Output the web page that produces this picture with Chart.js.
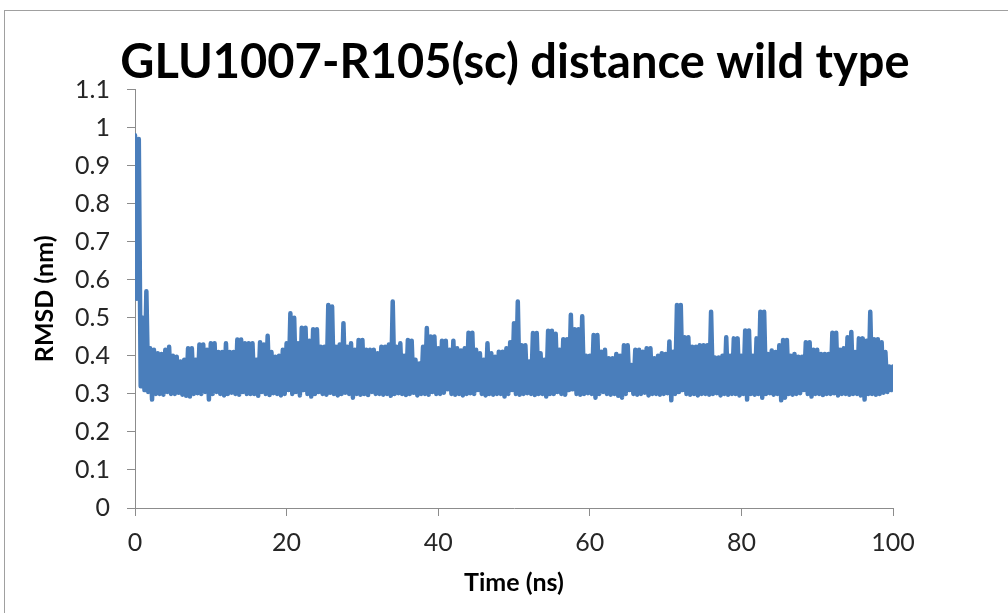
<!DOCTYPE html>
<html>
<head>
<meta charset="utf-8">
<script src="https://cdn.jsdelivr.net/npm/chart.js@4.4.1/dist/chart.umd.min.js"></script>
<style>
  html, body { margin: 0; padding: 0; background: #ffffff; overflow: hidden; }
  #wrap { position: relative; width: 1008px; height: 613px; }
  #frame { position: absolute; left: 4px; top: 10px; width: 1100px; height: 700px;
           border-left: 1px solid #a0a0a0; border-top: 1px solid #a0a0a0; box-sizing: border-box; }
  canvas { position: absolute; left: 0; top: 0; }
</style>
</head>
<body>
<div id="wrap">
  <div id="frame"></div>
  <canvas id="c" width="1008" height="613"></canvas>
</div>
<script>
// Chart texts
const chartTitle = 'GLU1007-R105(sc) distance wild type';
const xTitle = 'Time (ns)';
const yTitle = 'RMSD (nm)';

// Sampling of the trace (ns)
const sampleStep = 0.5;   // spacing of the upper-envelope samples
const lowOffset = 0.25;   // low samples sit between upper samples

// Upper-envelope samples, t = 0, 0.5, 1, ... 100 ns
const highValues = [
  0.98,0.97,0.50,0.57,0.42,0.416,0.407,0.405,0.416,0.424,
  0.40,0.398,0.385,0.39,0.42,0.42,0.39,0.43,0.43,0.416,
  0.433,0.433,0.41,0.41,0.433,0.41,0.41,0.443,0.443,0.433,
  0.433,0.433,0.39,0.436,0.43,0.453,0.41,0.398,0.40,0.416,
  0.433,0.512,0.50,0.433,0.474,0.474,0.44,0.47,0.47,0.424,
  0.424,0.534,0.53,0.424,0.43,0.486,0.424,0.433,0.416,0.442,
  0.442,0.416,0.416,0.416,0.407,0.424,0.424,0.43,0.543,0.424,
  0.433,0.40,0.442,0.44,0.39,0.38,0.424,0.473,0.451,0.451,
  0.42,0.44,0.44,0.416,0.44,0.42,0.414,0.42,0.461,0.461,
  0.416,0.407,0.39,0.433,0.407,0.398,0.411,0.411,0.42,0.436,
  0.486,0.543,0.428,0.428,0.385,0.46,0.46,0.407,0.39,0.466,
  0.466,0.458,0.416,0.444,0.444,0.508,0.47,0.47,0.504,0.40,
  0.40,0.455,0.455,0.411,0.416,0.394,0.394,0.405,0.40,0.428,
  0.428,0.376,0.416,0.416,0.411,0.42,0.42,0.394,0.40,0.407,
  0.405,0.438,0.411,0.534,0.534,0.449,0.449,0.424,0.424,0.428,
  0.428,0.428,0.516,0.396,0.396,0.40,0.449,0.40,0.446,0.446,
  0.40,0.467,0.467,0.40,0.446,0.516,0.516,0.405,0.414,0.41,
  0.428,0.442,0.442,0.40,0.405,0.398,0.398,0.436,0.436,0.416,
  0.416,0.405,0.405,0.405,0.461,0.461,0.416,0.42,0.449,0.463,
  0.41,0.446,0.446,0.44,0.516,0.444,0.444,0.436,0.41,0.372,
  0.372
];

// Lower-envelope samples, t = 0.25, 0.75, ... 99.75 ns
const lowValues = [
  0.55,0.32,0.31,0.305,0.285,0.30,0.30,0.298,0.305,0.30,
  0.30,0.303,0.298,0.295,0.293,0.30,0.302,0.30,0.305,0.285,
  0.30,0.305,0.30,0.296,0.30,0.303,0.30,0.298,0.305,0.30,
  0.30,0.30,0.295,0.305,0.30,0.297,0.302,0.30,0.296,0.30,
  0.31,0.30,0.305,0.296,0.31,0.30,0.293,0.30,0.305,0.30,
  0.298,0.303,0.30,0.296,0.30,0.303,0.30,0.29,0.30,0.298,
  0.30,0.297,0.305,0.30,0.30,0.298,0.30,0.295,0.30,0.302,
  0.30,0.297,0.30,0.303,0.296,0.30,0.30,0.298,0.305,0.30,
  0.30,0.303,0.312,0.30,0.298,0.30,0.296,0.30,0.302,0.30,
  0.31,0.30,0.296,0.30,0.298,0.30,0.30,0.293,0.30,0.31,
  0.30,0.298,0.30,0.302,0.30,0.297,0.30,0.30,0.293,0.30,
  0.30,0.305,0.30,0.298,0.31,0.312,0.30,0.298,0.30,0.302,
  0.30,0.29,0.30,0.305,0.30,0.298,0.30,0.295,0.29,0.30,
  0.31,0.30,0.298,0.30,0.303,0.296,0.30,0.30,0.298,0.30,
  0.302,0.283,0.30,0.305,0.31,0.30,0.298,0.30,0.296,0.30,
  0.30,0.298,0.30,0.302,0.296,0.30,0.298,0.30,0.30,0.296,
  0.30,0.285,0.30,0.298,0.30,0.29,0.30,0.302,0.298,0.30,
  0.283,0.29,0.30,0.298,0.30,0.302,0.31,0.30,0.293,0.30,
  0.30,0.297,0.30,0.30,0.302,0.296,0.30,0.30,0.298,0.30,
  0.30,0.296,0.285,0.30,0.30,0.298,0.30,0.303,0.305,0.31
];

// Axis tick settings
const xTicks = [0, 20, 40, 60, 80, 100];
const yTicks = [0, 0.1, 0.2, 0.3, 0.4, 0.5, 0.6, 0.7, 0.8, 0.9, 1, 1.1];

// Interleave the two envelopes into one trace
const trace = [];
for (let i = 0; i < highValues.length; i++) {
  trace.push({ x: i * sampleStep, y: highValues[i] });
  if (i < lowValues.length) trace.push({ x: i * sampleStep + lowOffset, y: lowValues[i] });
}

Chart.defaults.font.family = 'Lato, "Open Sans", sans-serif';
Chart.defaults.color = '#262626';

const axisGray = '#8c8c8c';

new Chart(document.getElementById('c'), {
  type: 'line',
  data: {
    datasets: [{
      data: trace,
      borderColor: '#4a7ebb',
      borderWidth: 4.5,
      borderJoinStyle: 'round',
      borderCapStyle: 'round',
      pointRadius: 0,
      tension: 0,
      fill: false
    }]
  },
  options: {
    responsive: false,
    animation: false,
    layout: { padding: { left: 22, right: 0, top: 0, bottom: 0 } },
    plugins: {
      legend: { display: false },
      tooltip: { enabled: false },
      title: {
        display: true,
        text: chartTitle,
        color: '#000000',
        font: { size: 47, weight: 'bold', lineHeight: 1.12 },
        padding: { top: 37, bottom: 0 }
      }
    },
    scales: {
      x: {
        type: 'linear',
        min: xTicks[0],
        max: xTicks[xTicks.length - 1],
        afterBuildTicks: s => { s.ticks = xTicks.map(v => ({ value: v })); },
        afterFit: s => { s.height = 105; },
        grid: { display: true, drawOnChartArea: false, drawTicks: true, tickLength: 8, color: axisGray, lineWidth: 1 },
        border: { display: true, color: axisGray, width: 1 },
        ticks: { font: { size: 25 }, padding: 12, maxRotation: 0, color: '#262626' },
        title: { display: true, text: xTitle, color: '#000000', font: { size: 25, weight: 'bold', lineHeight: 1.2 }, padding: { top: 4, bottom: 15 } }
      },
      y: {
        type: 'linear',
        min: yTicks[0],
        max: yTicks[yTicks.length - 1],
        afterBuildTicks: s => { s.ticks = yTicks.map(v => ({ value: v })); },
        afterFit: s => { s.width = 113; },
        grid: { display: true, drawOnChartArea: false, drawTicks: true, tickLength: 8, color: axisGray, lineWidth: 1 },
        border: { display: true, color: axisGray, width: 1 },
        ticks: { font: { size: 25 }, padding: 17, color: '#262626',
                 callback: v => String(Math.round(v * 10) / 10) },
        title: { display: true, text: yTitle, color: '#000000', font: { size: 25, weight: 'bold', lineHeight: 1.2 }, padding: { top: 8, bottom: 0 } }
      },
      yRight: {
        type: 'linear',
        position: 'right',
        display: true,
        min: 0, max: 1,
        grid: { display: false, drawTicks: false },
        border: { display: false },
        ticks: { display: false },
        afterFit: s => { s.width = 115; }
      }
    }
  }
});
</script>
</body>
</html>
